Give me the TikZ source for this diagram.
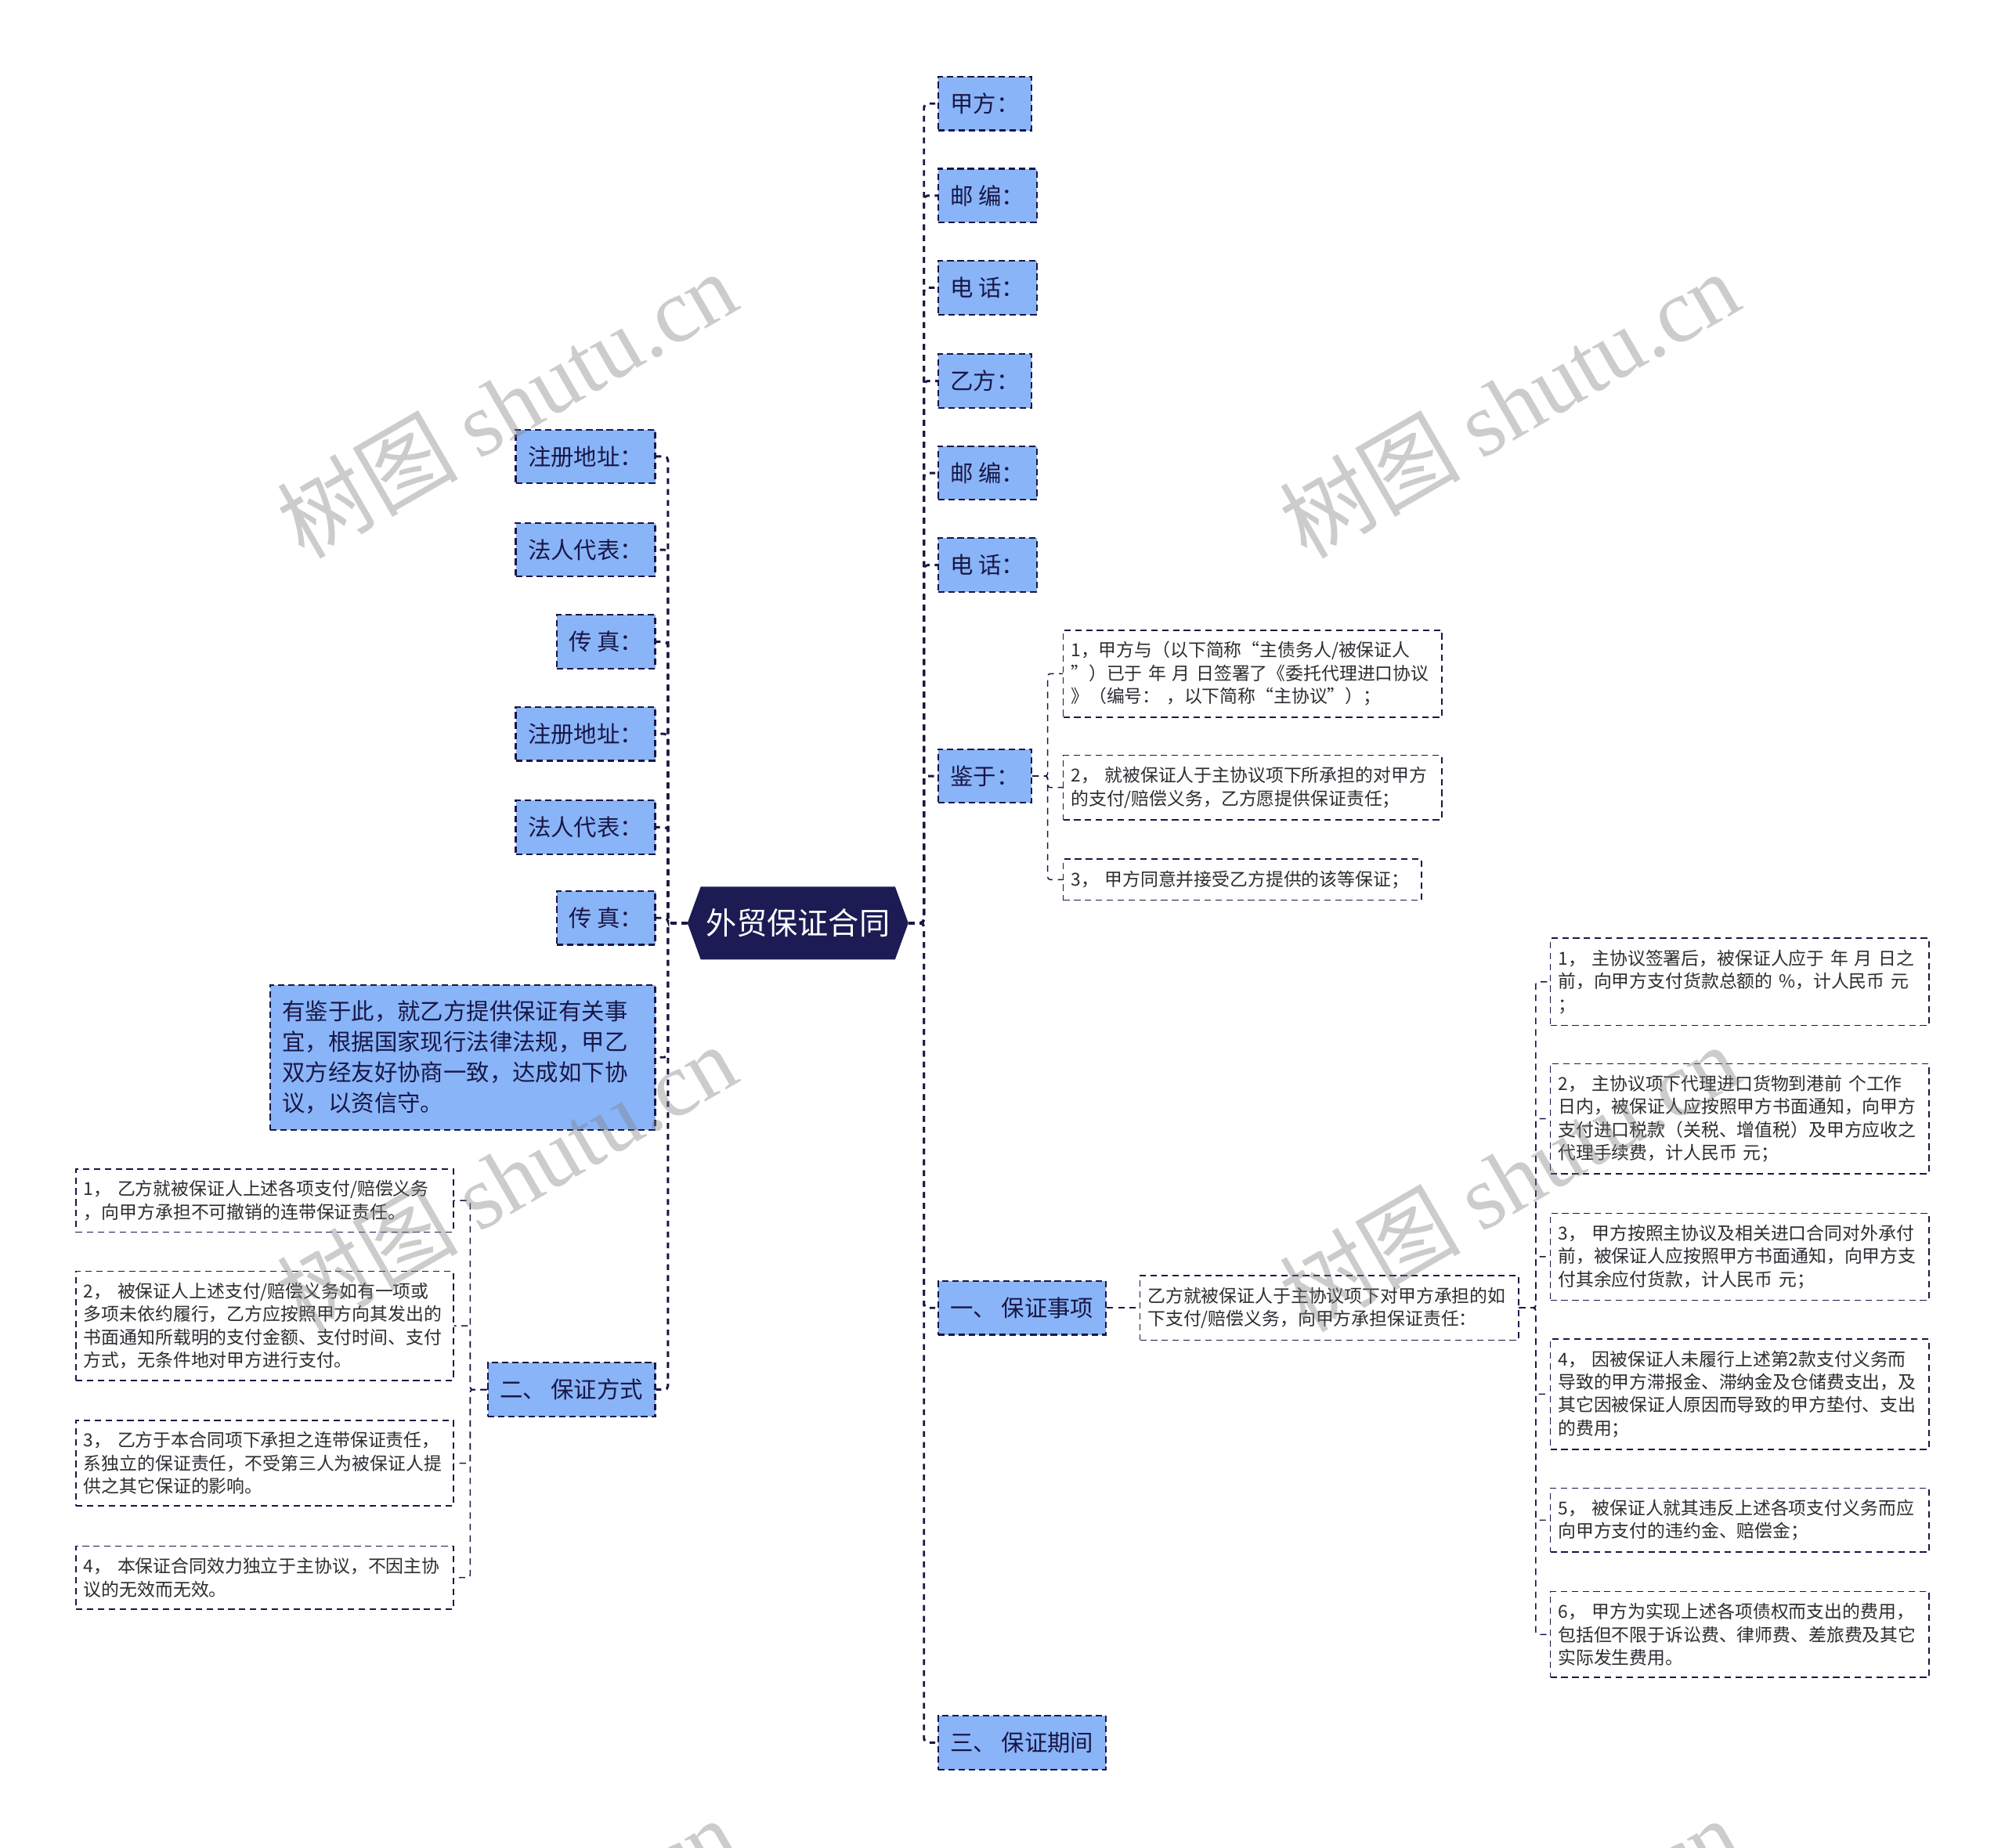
\documentclass[tikz,border=0pt]{standalone}
\usepackage{fontspec}
\setmainfont{Noto Sans CJK SC}
\newfontfamily\wmserif{Liberation Serif}
\usepackage{tikz}
\usetikzlibrary{shapes.symbols}
\definecolor{navy}{RGB}{24,23,70}
\definecolor{rootfill}{RGB}{28,27,84}
\definecolor{topicblue}{RGB}{138,180,248}
\definecolor{inkgray}{RGB}{45,45,50}
\tikzset{
  rootnode/.style={shape=signal, signal to=east and west, signal pointer angle=140,
    fill=rootfill, text=white, font=\fontsize{24}{28}\selectfont,
    minimum height=57pt, inner xsep=4pt},
  topic/.style={draw=navy, fill=topicblue, line width=1.3pt, dash pattern=on 5pt off 3pt,
    text=navy, font=\fontsize{18}{24}\selectfont, inner xsep=9.5pt, minimum height=42pt},
  leaf/.style={draw=navy, fill=white, line width=1pt, dash pattern=on 5pt off 3.5pt,
    text=inkgray, font=\fontsize{14}{18}\selectfont, align=left,
    inner xsep=6pt, inner ysep=9pt, text width=284pt},
  link/.style={draw=navy, line width=1.8pt, dash pattern=on 4.5pt off 4pt, rounded corners=3pt},
  sublink/.style={draw=navy, line width=0.9pt, dash pattern=on 5pt off 4pt, rounded corners=2pt},
  wmark/.style={text=gray, opacity=0.4, rotate=30, font=\fontsize{71}{71}\selectfont}
}
\begin{document}
\begin{tikzpicture}[x=1pt, y=-1pt]
\useasboundingbox (0,0) rectangle (1568,1445);

% root
\node[rootnode] (root) at (624,722) {外贸保证合同};

% right side
\node[topic, anchor=west] (jiaA) at (733,81) {甲方：};
\node[topic, anchor=west] (youA) at (733,153) {邮 编：};
\node[topic, anchor=west] (dianA) at (733,225) {电 话：};
\node[topic, anchor=west] (yiB) at (733,298) {乙方：};
\node[topic, anchor=west] (youB) at (733,370) {邮 编：};
\node[topic, anchor=west] (dianB) at (733,442) {电 话：};
\node[topic, anchor=west] (jianyu) at (733,607) {鉴于：};
\node[topic, anchor=west] (sec1) at (733,1023) {一、 保证事项};
\node[topic, anchor=west] (sec3) at (733,1363) {三、 保证期间};

\node[leaf, anchor=west] (jy1) at (831,527) {1，甲方与（以下简称“主债务人/被保证人\\”）已于 年 月 日签署了《委托代理进口协议\\》（编号： ，以下简称“主协议”）；};
\node[leaf, anchor=west] (jy2) at (831,616) {2， 就被保证人于主协议项下所承担的对甲方\\的支付/赔偿义务，乙方愿提供保证责任；};
\node[leaf, anchor=west, text width=268pt] (jy3) at (831,688) {3， 甲方同意并接受乙方提供的该等保证；};

\node[leaf, anchor=west] (desc) at (891,1023) {乙方就被保证人于主协议项下对甲方承担的如\\下支付/赔偿义务，向甲方承担保证责任：};

\node[leaf, anchor=west] (it1) at (1212,768) {1， 主协议签署后，被保证人应于 年 月 日之\\前，向甲方支付货款总额的 \%，计人民币 元\\；};
\node[leaf, anchor=west] (it2) at (1212,875) {2， 主协议项下代理进口货物到港前 个工作\\日内，被保证人应按照甲方书面通知，向甲方\\支付进口税款（关税、增值税）及甲方应收之\\代理手续费，计人民币 元；};
\node[leaf, anchor=west] (it3) at (1212,983) {3， 甲方按照主协议及相关进口合同对外承付\\前，被保证人应按照甲方书面通知，向甲方支\\付其余应付货款，计人民币 元；};
\node[leaf, anchor=west] (it4) at (1212,1090.5) {4， 因被保证人未履行上述第2款支付义务而\\导致的甲方滞报金、滞纳金及仓储费支出，及\\其它因被保证人原因而导致的甲方垫付、支出\\的费用；};
\node[leaf, anchor=west] (it5) at (1212,1189) {5， 被保证人就其违反上述各项支付义务而应\\向甲方支付的违约金、赔偿金；};
\node[leaf, anchor=west] (it6) at (1212,1278.5) {6， 甲方为实现上述各项债权而支出的费用，\\包括但不限于诉讼费、律师费、差旅费及其它\\实际发生费用。};

% left side
\node[topic, anchor=east] (zc1) at (513,357) {注册地址：};
\node[topic, anchor=east] (fr1) at (513,430) {法人代表：};
\node[topic, anchor=east] (cz1) at (513,502) {传 真：};
\node[topic, anchor=east] (zc2) at (513,574) {注册地址：};
\node[topic, anchor=east] (fr2) at (513,647) {法人代表：};
\node[topic, anchor=east] (cz2) at (513,718) {传 真：};
\node[topic, anchor=east, text width=282pt, align=left, inner ysep=12pt] (intro) at (513,827) {有鉴于此，就乙方提供保证有关事\\宜，根据国家现行法律法规，甲乙\\双方经友好协商一致，达成如下协\\议，以资信守。};
\node[topic, anchor=east] (sec2) at (513,1087) {二、 保证方式};

\node[leaf, anchor=east, text width=283pt] (fs1) at (355,939) {1， 乙方就被保证人上述各项支付/赔偿义务\\，向甲方承担不可撤销的连带保证责任。};
\node[leaf, anchor=east, text width=283pt] (fs2) at (355,1037) {2， 被保证人上述支付/赔偿义务如有一项或\\多项未依约履行，乙方应按照甲方向其发出的\\书面通知所载明的支付金额、支付时间、支付\\方式，无条件地对甲方进行支付。};
\node[leaf, anchor=east, text width=283pt] (fs3) at (355,1144.5) {3， 乙方于本合同项下承担之连带保证责任，\\系独立的保证责任，不受第三人为被保证人提\\供之其它保证的影响。};
\node[leaf, anchor=east, text width=283pt] (fs4) at (355,1234) {4， 本保证合同效力独立于主协议，不因主协\\议的无效而无效。};

% connectors
\foreach \c in {jiaA,youA,dianA,yiB,youB,dianB,jianyu,sec1,sec3}
  \draw[link] (root.east) -- ++(12,0) |- (\c.west);
\foreach \c in {zc1,fr1,cz1,zc2,fr2,cz2,intro,sec2}
  \draw[link] (root.west) -- ++(-15,0) |- (\c.east);
\foreach \c in {jy1,jy2,jy3}
  \draw[sublink] (jianyu.east) -- ++(12,0) |- (\c.west);
\draw[sublink] (sec1.east) -- (desc.west);
\foreach \c in {it1,it2,it3,it4,it5,it6}
  \draw[sublink] (desc.east) -- ++(13,0) |- (\c.west);
\foreach \c in {fs1,fs2,fs3,fs4}
  \draw[sublink] (sec2.west) -- ++(-13,0) |- (\c.east);

% watermark
\node[wmark] (wm1) at (396,316) {树图 {\wmserif shutu.cn}};
\node[wmark] (wm2) at (1180,316) {树图 {\wmserif shutu.cn}};
\node[wmark] (wm3) at (396,921) {树图 {\wmserif shutu.cn}};
\node[wmark] (wm4) at (1180,921) {树图 {\wmserif shutu.cn}};
\node[wmark] (wm5) at (396,1526) {树图 {\wmserif shutu.cn}};
\node[wmark] (wm6) at (1180,1526) {树图 {\wmserif shutu.cn}};
\end{tikzpicture}
\end{document}
